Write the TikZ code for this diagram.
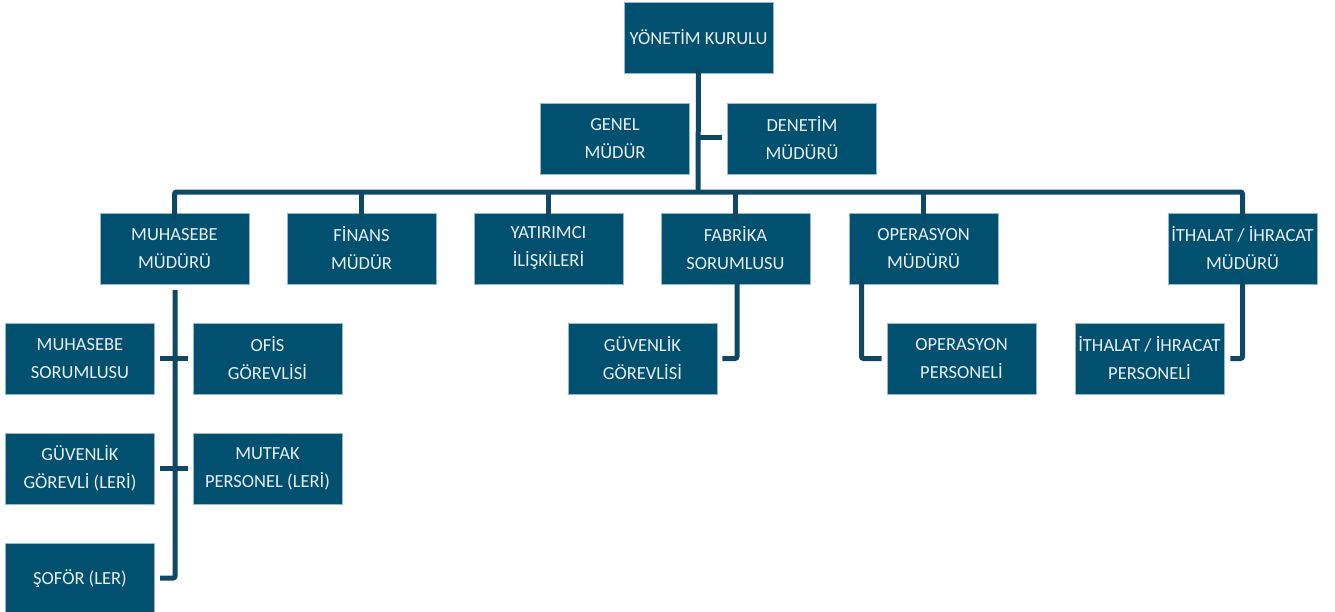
\documentclass[tikz,border=0pt]{standalone}
\usepackage{fontspec}
\setmainfont{Carlito}
\definecolor{boxc}{RGB}{2,80,112}
\definecolor{connc}{RGB}{14,72,100}
\definecolor{txtc}{RGB}{232,240,244}
\definecolor{edgec}{RGB}{150,185,205}
\begin{document}
\begin{tikzpicture}[x=1pt,y=-1pt,
  orgbox/.style={rectangle,fill=boxc,draw=edgec,line width=0.6pt,minimum width=149pt,minimum height=71pt,inner sep=0pt,align=center,text=txtc,font=\fontsize{18.5}{28}\selectfont},
  conn/.style={draw=connc,line width=5pt,rounded corners=2pt}]
\useasboundingbox (0,0) rectangle (1335,611);
% top
\node[orgbox] (yk) at (698.5,37.5) {YÖNETİM KURULU};
\node[orgbox] (gm) at (615,138.5) {GENEL\\MÜDÜR};
\node[orgbox] (dm) at (802,138.5) {DENETİM\\MÜDÜRÜ};
% row 2
\node[orgbox] (mm) at (174.5,248.5) {MUHASEBE\\MÜDÜRÜ};
\node[orgbox] (fm) at (361.5,248.5) {FİNANS\\MÜDÜR};
\node[orgbox] (yi) at (548.5,248.5) {YATIRIMCI\\İLİŞKİLERİ};
\node[orgbox] (fs) at (735.5,248.5) {FABRİKA\\SORUMLUSU};
\node[orgbox] (om) at (923.5,248.5) {OPERASYON\\MÜDÜRÜ};
\node[orgbox] (im) at (1242.5,248.5) {İTHALAT / İHRACAT\\MÜDÜRÜ};
% row 3
\node[orgbox] (ms) at (80,358.5) {MUHASEBE\\SORUMLUSU};
\node[orgbox] (og) at (267.5,358.5) {OFİS\\GÖREVLİSİ};
\node[orgbox] (gg) at (80,468.5) {GÜVENLİK\\GÖREVLİ (LERİ)};
\node[orgbox] (mp) at (267.5,468.5) {MUTFAK\\PERSONEL (LERİ)};
\node[orgbox] (sf) at (80,578.5) {ŞOFÖR (LER)};
\node[orgbox] (gv) at (642.5,358.5) {GÜVENLİK\\GÖREVLİSİ};
\node[orgbox] (op) at (961.5,358.5) {OPERASYON\\PERSONELİ};
\node[orgbox] (ip) at (1149.5,358.5) {İTHALAT / İHRACAT\\PERSONELİ};
% coordinates
\coordinate (bus) at (698,192);
\coordinate (stub) at (722,137);
\coordinate (mmv) at (175,290);
\coordinate (mmend) at (160,578);
% connectors
\draw[conn] ([yshift=6pt]yk.south) -- (bus);
\draw[conn] (bus|-stub) -- (stub);
\draw[conn] ([yshift=-8pt]mm.north) -- (mm.north|-bus) -- (im.north|-bus) -- ([yshift=-8pt]im.north);
\foreach \n in {fm,yi,fs,om} \draw[conn] (\n.north|-bus) -- ([yshift=-8pt]\n.north);
% muhasebe
\draw[conn] (mmv) -- (mmv|-mmend) -- (mmend);
\draw[conn] ([xshift=5pt]ms.east) -- ([xshift=-5pt]og.west);
\draw[conn] ([xshift=5pt]gg.east) -- ([xshift=-5pt]mp.west);
% fabrika
\draw[conn] ([xshift=1.5pt,yshift=6pt]fs.south) -- ([xshift=1.5pt]fs.south|-gv.east) -- ([xshift=5pt]gv.east);
% operasyon
\draw[conn] ([xshift=-62pt,yshift=6pt]om.south) -- ([xshift=-62pt]om.south|-op.west) -- ([xshift=-5pt]op.west);
% ithalat
\draw[conn] ([yshift=6pt]im.south) -- (im.south|-ip.east) -- ([xshift=6pt]ip.east);
\end{tikzpicture}
\end{document}
